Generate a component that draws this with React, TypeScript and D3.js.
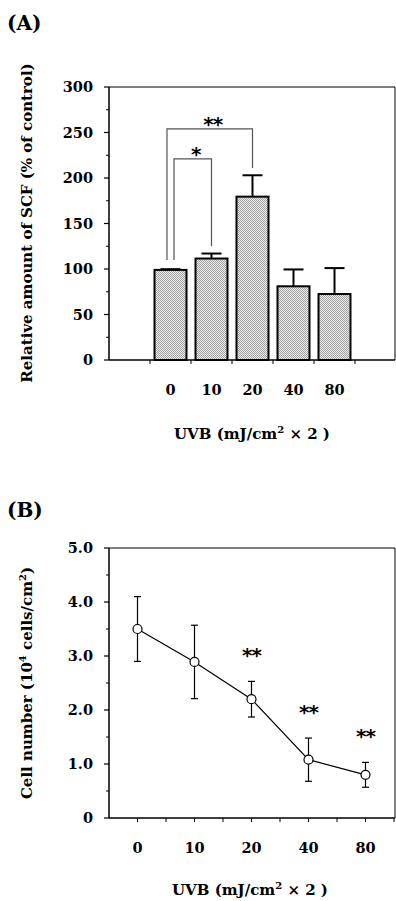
import * as d3 from 'd3';

// (A) SCF bar chart
const doseLabels = ['0', '10', '20', '40', '80'];
const scfMeans = [99, 111.5, 179.5, 81, 72.5];
const scfErrors = [0.8, 5.5, 23.5, 18.5, 28.5];
const scfTicks = [0, 50, 100, 150, 200, 250, 300];
const scfMinorTicks = [25, 75, 125, 175, 225, 275];
// significance brackets: [from, to, top value, left-leg bottom, right-leg bottom, label]
const scfBrackets: [string, string, number, number, number, string][] = [
  ['0', '20', 254, 110, 211, '**'],
  ['0', '10', 221, 110, 125, '*'],
];

// (B) cell number line chart
const cellMeans = [3.5, 2.89, 2.2, 1.08, 0.8];
const cellErrors = [0.6, 0.68, 0.33, 0.4, 0.23];
const cellStars = ['', '', '**', '**', '**'];
const cellTicks = [0, 1, 2, 3, 4, 5];
const cellTickLabels = ['0', '1.0', '2.0', '3.0', '4.0', '5.0'];
const cellMinorTicks = [0.5, 1.5, 2.5, 3.5, 4.5];

const FONT = '"DejaVu Serif", serif';
const STAR_FONT = '"DejaVu Sans", sans-serif';

export default function App() {
  // panel A scales
  const xA = d3.scaleBand<string>().domain(doseLabels).range([150, 355]).paddingInner(0.22).paddingOuter(0.11);
  const yA = d3.scaleLinear().domain([0, 300]).range([360, 87]);
  const stepA = xA.step();
  const bwA = xA.bandwidth();
  const cxA = (d: string) => (xA(d) as number) + bwA / 2;

  // panel B scales
  const xB = d3.scalePoint<string>().domain(doseLabels).range([109, 394]).padding(0.5);
  const yB = d3.scaleLinear().domain([0, 5]).range([818, 548]);
  const stepB = xB.step();
  const line = d3.line<number>().x((_, i) => xB(doseLabels[i]) as number).y((d) => yB(d));

  const left = 109;
  const right = 395;

  return (
    <svg width={396} height={901} style={{ position: 'absolute', left: 0, top: 0 }} fontFamily={FONT} fontWeight="bold">
      <defs>
        <pattern id="stipple" width={2} height={2} patternUnits="userSpaceOnUse">
          <rect width={2} height={2} fill="#ebebeb" />
          <rect width={1} height={1} fill="#a2a2a2" />
          <rect x={1} y={1} width={1} height={1} fill="#a2a2a2" />
        </pattern>
      </defs>

      {/* ---------- Panel A ---------- */}
      <text x={7} y={30} fontSize={20}>(A)</text>

      {/* frame */}
      <line x1={left} x2={right} y1={yA(300)} y2={yA(300)} stroke="#000" strokeWidth={1.2} />
      <line x1={right} x2={right} y1={yA(300)} y2={yA(0)} stroke="#000" strokeWidth={1} />
      <line x1={left} x2={left} y1={yA(300)} y2={yA(0)} stroke="#000" strokeWidth={1.5} />
      <line x1={left} x2={right} y1={yA(0)} y2={yA(0)} stroke="#000" strokeWidth={1.5} />

      {/* y ticks */}
      {scfTicks.map((t) => (
        <g key={t}>
          <line x1={left - 5} x2={left} y1={yA(t)} y2={yA(t)} stroke="#000" strokeWidth={1.2} />
          <text x={93} y={yA(t) + 5} fontSize={14.5} textAnchor="end">{t}</text>
        </g>
      ))}
      {scfMinorTicks.map((t) => (
        <line key={t} x1={left - 3} x2={left} y1={yA(t)} y2={yA(t)} stroke="#000" strokeWidth={1} />
      ))}

      {/* x ticks between bars */}
      {doseLabels.map((d) => (
        <line key={d} x1={(xA(d) as number) - (stepA - bwA) / 2} x2={(xA(d) as number) - (stepA - bwA) / 2}
          y1={yA(0)} y2={yA(0) + 4} stroke="#000" strokeWidth={1} />
      ))}
      <line x1={355} x2={355} y1={yA(0)} y2={yA(0) + 4} stroke="#000" strokeWidth={1} />

      {/* bars with error bars */}
      {doseLabels.map((d, i) => (
        <g key={d}>
          <line x1={cxA(d)} x2={cxA(d)} y1={yA(scfMeans[i])} y2={yA(scfMeans[i] + scfErrors[i])} stroke="#000" strokeWidth={2} />
          <line x1={cxA(d) - 10} x2={cxA(d) + 10} y1={yA(scfMeans[i] + scfErrors[i])} y2={yA(scfMeans[i] + scfErrors[i])} stroke="#000" strokeWidth={2} />
          <rect x={xA(d)} y={yA(scfMeans[i])} width={bwA} height={yA(0) - yA(scfMeans[i])}
            fill="url(#stipple)" stroke="#000" strokeWidth={2} />
          <text x={cxA(d)} y={395} fontSize={14.5} textAnchor="middle">{d}</text>
        </g>
      ))}

      {/* significance brackets */}
      {scfBrackets.map(([a, b, top, lb, rb, lab], i) => {
        const x1 = cxA(a) + (i === 0 ? -3.5 : 3.5);
        const x2 = cxA(b);
        return (
          <g key={lab} stroke="#555" strokeWidth={1.2} fill="none">
            <polyline points={`${x1},${yA(lb)} ${x1},${yA(top)} ${x2},${yA(top)} ${x2},${yA(rb)}`} />
            <text x={(x1 + x2) / 2 + 3} y={yA(top) + 2} fontSize={20} fontFamily={STAR_FONT}
              textAnchor="middle" stroke="none" fill="#000" letterSpacing={-1}>{lab}</text>
          </g>
        );
      })}

      <text x={252} y={439} fontSize={15} textAnchor="middle">
        UVB (mJ/cm<tspan fontSize={10} dy={-6}>2</tspan><tspan dy={6}> × 2 )</tspan>
      </text>
      <text transform="translate(32,223) rotate(-90)" fontSize={15} textAnchor="middle">
        Relative amount of SCF (% of control)
      </text>

      {/* ---------- Panel B ---------- */}
      <text x={7} y={517} fontSize={20}>(B)</text>

      <line x1={left} x2={right} y1={yB(5)} y2={yB(5)} stroke="#000" strokeWidth={1.2} />
      <line x1={right} x2={right} y1={yB(5)} y2={yB(0)} stroke="#000" strokeWidth={1} />
      <line x1={left} x2={left} y1={yB(5)} y2={yB(0)} stroke="#000" strokeWidth={1.5} />
      <line x1={left} x2={right} y1={yB(0)} y2={yB(0)} stroke="#000" strokeWidth={1.5} />

      {cellTicks.map((t, i) => (
        <g key={t}>
          <line x1={left - 5} x2={left} y1={yB(t)} y2={yB(t)} stroke="#000" strokeWidth={1.2} />
          <text x={93} y={yB(t) + 5} fontSize={14.5} textAnchor="end">{cellTickLabels[i]}</text>
        </g>
      ))}
      {cellMinorTicks.map((t) => (
        <line key={t} x1={left - 3} x2={left} y1={yB(t)} y2={yB(t)} stroke="#000" strokeWidth={1} />
      ))}

      {doseLabels.map((d) => (
        <g key={d}>
          <line x1={xB(d)} x2={xB(d)} y1={yB(0)} y2={yB(0) + 4} stroke="#000" strokeWidth={1} />
          <line x1={(xB(d) as number) + stepB / 2} x2={(xB(d) as number) + stepB / 2} y1={yB(0)} y2={yB(0) + 4} stroke="#000" strokeWidth={1} />
          <text x={xB(d)} y={853} fontSize={14.5} textAnchor="middle">{d}</text>
        </g>
      ))}

      {/* error bars */}
      {doseLabels.map((d, i) => {
        const x = xB(d) as number;
        const hi = yB(cellMeans[i] + cellErrors[i]);
        const lo = yB(cellMeans[i] - cellErrors[i]);
        return (
          <g key={d} stroke="#000" strokeWidth={1.2}>
            <line x1={x} x2={x} y1={hi} y2={lo} />
            <line x1={x - 3.5} x2={x + 3.5} y1={hi} y2={hi} />
            <line x1={x - 3.5} x2={x + 3.5} y1={lo} y2={lo} />
            {cellStars[i] && (
              <text x={x} y={hi - 31 + 12} fontSize={20} fontFamily={STAR_FONT} letterSpacing={-1}
                textAnchor="middle" stroke="none" fill="#000">{cellStars[i]}</text>
            )}
          </g>
        );
      })}
      <path d={line(cellMeans) || ''} fill="none" stroke="#000" strokeWidth={1.2} />
      {doseLabels.map((d, i) => (
        <circle key={d} cx={xB(d)} cy={yB(cellMeans[i])} r={4.5} fill="#fff" stroke="#000" strokeWidth={1.2} />
      ))}

      <text x={250} y={895} fontSize={15} textAnchor="middle">
        UVB (mJ/cm<tspan fontSize={10} dy={-6}>2</tspan><tspan dy={6}> × 2 )</tspan>
      </text>
      <text transform="translate(32,683) rotate(-90)" fontSize={15} textAnchor="middle">
        Cell number (10<tspan fontSize={10} dy={-6}>4</tspan><tspan dy={6}> cells/cm</tspan><tspan fontSize={10} dy={-6}>2</tspan><tspan dy={6}>)</tspan>
      </text>
    </svg>
  );
}
